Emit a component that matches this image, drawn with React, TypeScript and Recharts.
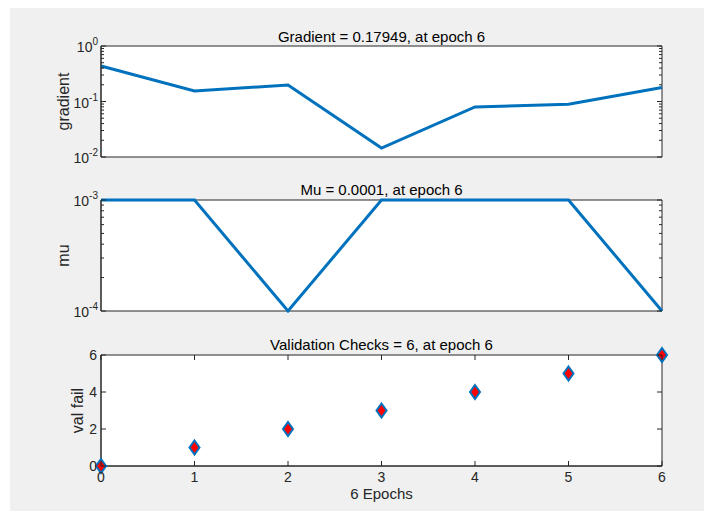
import React from "react";
import { LineChart, Line, XAxis, YAxis, ReferenceArea } from "recharts";

const epochs = [0, 1, 2, 3, 4, 5, 6];
const gradientValues = [0.436, 0.155, 0.198, 0.0145, 0.08, 0.089, 0.17949];
const muValues = [0.001, 0.001, 0.0001, 0.001, 0.001, 0.001, 0.0001];
const valFailValues = [0, 1, 2, 3, 4, 5, 6];

const gradientTicks = [
  0.01, 0.02, 0.03, 0.04, 0.05, 0.06, 0.07, 0.08, 0.09, 0.1, 0.2, 0.3, 0.4,
  0.5, 0.6, 0.7, 0.8, 0.9, 1,
];
const muTicks = [
  0.0001, 0.0002, 0.0003, 0.0004, 0.0005, 0.0006, 0.0007, 0.0008, 0.0009,
  0.001,
];
const valTicks = [0, 2, 4, 6];

const gradientData = epochs.map((e, i) => ({ epoch: e, gradient: gradientValues[i] }));
const muData = epochs.map((e, i) => ({ epoch: e, mu: muValues[i] }));
const valData = epochs.map((e, i) => ({ epoch: e, val: valFailValues[i] }));

const FONT = "'Liberation Sans', Arial, Helvetica, sans-serif";
const AXIS = "#262626";
const BLUE = "#0072BD";
const PLOT_W = 561;
const PLOT_H = 111;
const CHART_W = 702;

const isPow10 = (v: number) => Math.abs(Math.log10(v) - Math.round(Math.log10(v))) < 1e-9;

const LogTick = (props: any) => {
  const x = Number(props.x);
  const y = Number(props.y);
  const v = props.payload.value;
  const major = isPow10(v);
  const len = major ? 5 : 3;
  return (
    <g>
      <line x1={x} y1={y} x2={x + len} y2={y} stroke={AXIS} />
      <line x1={x + PLOT_W - len} y1={y} x2={x + PLOT_W} y2={y} stroke={AXIS} />
      {major && (
        <text x={x - 3} y={y + 6} textAnchor="end" fill={AXIS} fontSize={14} fontFamily={FONT}>
          10
          <tspan dy={-7} fontSize={10}>
            {Math.round(Math.log10(v))}
          </tspan>
        </text>
      )}
    </g>
  );
};

const LinTick = (props: any) => {
  const x = Number(props.x);
  const y = Number(props.y);
  return (
    <g>
      <line x1={x} y1={y} x2={x + 5} y2={y} stroke={AXIS} />
      <line x1={x + PLOT_W - 5} y1={y} x2={x + PLOT_W} y2={y} stroke={AXIS} />
      <text x={x - 4} y={y + 5} textAnchor="end" fill={AXIS} fontSize={14} fontFamily={FONT}>
        {props.payload.value}
      </text>
    </g>
  );
};

// x ticks point inward and are repeated on the top edge of the box
const makeXTick = (showLabel: boolean) => (props: any) => {
  const x = Number(props.x);
  const y = Number(props.y);
  return (
    <g>
      <line x1={x} y1={y} x2={x} y2={y - 5} stroke={AXIS} />
      <line x1={x} y1={y - PLOT_H} x2={x} y2={y - PLOT_H + 5} stroke={AXIS} />
      {showLabel ? (
        <text x={x} y={y + 16} textAnchor="middle" fill={AXIS} fontSize={14} fontFamily={FONT}>
          {String(props.payload.value)}
        </text>
      ) : null}
    </g>
  );
};

const yLabel = (text: string, cx: number) => (props: any) => {
  const vb = props.viewBox || {};
  const cy = (vb.y ?? 0) + (vb.height ?? PLOT_H) / 2;
  return (
    <text
      x={cx}
      y={cy}
      transform={`rotate(-90, ${cx}, ${cy})`}
      textAnchor="middle"
      dominantBaseline="middle"
      fill={AXIS}
      fontSize={16}
      fontFamily={FONT}
    >
      {text}
    </text>
  );
};

const Diamond = (props: any) => {
  const { cx, cy } = props;
  if (cx == null || cy == null) return null;
  return (
    <polygon
      key={`d-${cx}`}
      points={`${cx},${cy - 7} ${cx + 5},${cy} ${cx},${cy + 7} ${cx - 5},${cy}`}
      fill="#ff0000"
      stroke={BLUE}
      strokeWidth={2}
    />
  );
};

const Title = ({ top, text }: { top: number; text: string }) => (
  <div
    style={{
      position: "absolute",
      left: 91,
      top,
      width: PLOT_W,
      textAlign: "center",
      fontFamily: FONT,
      fontSize: 15,
      lineHeight: "16px",
      color: "#000",
    }}
  >
    {text}
  </div>
);

const App = () => {
  return (
    <div
      style={{
        position: "relative",
        marginLeft: 2,
        width: CHART_W,
        height: 503,
        background: "#f0f0f0",
      }}
    >
      <div style={{ position: "absolute", left: 0, top: 0 }}>
        <LineChart
          width={CHART_W}
          height={165}
          data={gradientData}
          margin={{ top: 38, right: 50, bottom: 16, left: 0 }}
        >
          <XAxis
            dataKey="epoch"
            type="number"
            domain={[0, 6]}
            ticks={epochs}
            interval={0}
            height={0}
            tickSize={0}
            tickMargin={0}
            axisLine={{ stroke: AXIS }}
            tickLine={false}
            tick={makeXTick(false)}
          />
          <YAxis
            scale="log"
            domain={[0.01, 1]}
            ticks={gradientTicks}
            interval={0}
            width={91}
            tickSize={0}
            tickMargin={0}
            axisLine={{ stroke: AXIS }}
            tickLine={false}
            tick={LogTick}
            label={{ content: yLabel("gradient", 55) }}
            allowDataOverflow
          />
          <ReferenceArea x1={0} x2={6} y1={0.01} y2={1} fill="#ffffff" fillOpacity={1} stroke={AXIS} />
          <Line
            dataKey="gradient"
            stroke={BLUE}
            strokeWidth={3}
            dot={false}
            isAnimationActive={false}
          />
        </LineChart>
      </div>

      <div style={{ position: "absolute", left: 0, top: 150 }}>
        <LineChart
          width={CHART_W}
          height={165}
          data={muData}
          margin={{ top: 42, right: 50, bottom: 12, left: 0 }}
        >
          <XAxis
            dataKey="epoch"
            type="number"
            domain={[0, 6]}
            ticks={epochs}
            interval={0}
            height={0}
            tickSize={0}
            tickMargin={0}
            axisLine={{ stroke: AXIS }}
            tickLine={false}
            tick={makeXTick(false)}
          />
          <YAxis
            scale="log"
            domain={[0.0001, 0.001]}
            ticks={muTicks}
            interval={0}
            width={91}
            tickSize={0}
            tickMargin={0}
            axisLine={{ stroke: AXIS }}
            tickLine={false}
            tick={LogTick}
            label={{ content: yLabel("mu", 55) }}
          />
          <ReferenceArea x1={0} x2={6} y1={0.0001} y2={0.001} fill="#ffffff" fillOpacity={1} stroke={AXIS} />
          <Line
            dataKey="mu"
            stroke={BLUE}
            strokeWidth={3}
            dot={false}
            isAnimationActive={false}
          />
        </LineChart>
      </div>

      <div style={{ position: "absolute", left: 0, top: 305 }}>
        <LineChart
          width={CHART_W}
          height={198}
          data={valData}
          margin={{ top: 42, right: 50, bottom: 15, left: 0 }}
        >
          <XAxis
            dataKey="epoch"
            type="number"
            domain={[0, 6]}
            ticks={epochs}
            interval={0}
            height={30}
            tickSize={0}
            tickMargin={0}
            axisLine={{ stroke: AXIS }}
            tickLine={false}
            tick={makeXTick(true)}
          />
          <YAxis
            type="number"
            domain={[0, 6]}
            ticks={valTicks}
            interval={0}
            width={91}
            tickSize={0}
            tickMargin={0}
            axisLine={{ stroke: AXIS }}
            tickLine={false}
            tick={LinTick}
            label={{ content: yLabel("val fail", 69) }}
          />
          <ReferenceArea x1={0} x2={6} y1={0} y2={6} fill="#ffffff" fillOpacity={1} stroke={AXIS} />
          <Line
            dataKey="val"
            stroke="none"
            dot={Diamond}
            activeDot={false}
            isAnimationActive={false}
          />
        </LineChart>
      </div>

      <Title top={21} text="Gradient = 0.17949, at epoch 6" />
      <Title top={174} text="Mu = 0.0001, at epoch 6" />
      <Title top={329} text="Validation Checks = 6, at epoch 6" />
      <div
        style={{
          position: "absolute",
          left: 91,
          top: 478,
          width: PLOT_W,
          textAlign: "center",
          fontFamily: FONT,
          fontSize: 15,
          lineHeight: "16px",
          color: AXIS,
        }}
      >
        6 Epochs
      </div>
    </div>
  );
};

export default App;
